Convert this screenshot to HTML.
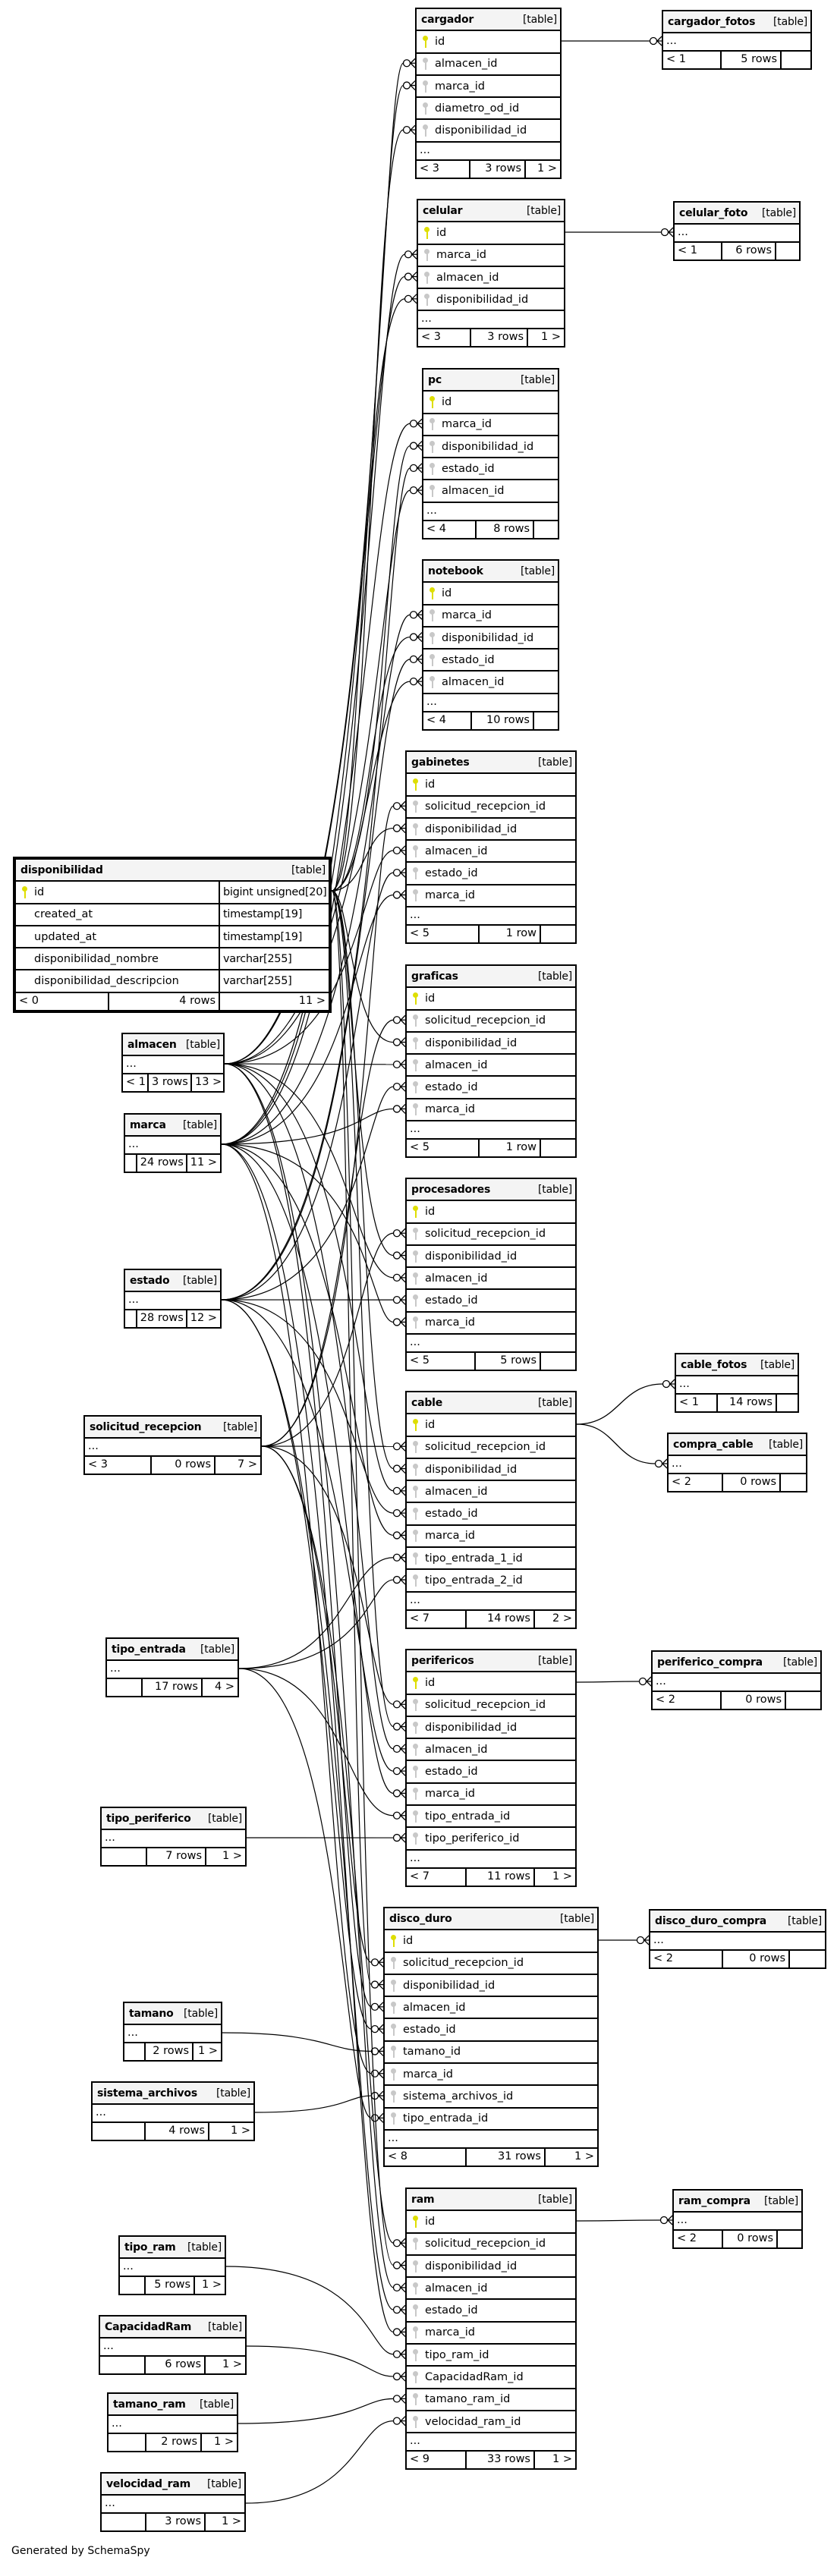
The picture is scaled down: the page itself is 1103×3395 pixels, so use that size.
<!DOCTYPE html>
<html><head><meta charset="utf-8">
<style>
html,body{margin:0;padding:0;background:#fff;}
body{width:1103px;height:3395px;position:relative;overflow:hidden;font-family:"DejaVu Sans","Liberation Sans",sans-serif;font-size:14.5px;color:#000;}
svg#edges{position:absolute;left:0;top:0;z-index:0;}
.t{position:absolute;z-index:1;background:#fff;border:2px solid #000;box-sizing:border-box;}
.t div{box-sizing:border-box;white-space:nowrap;overflow:hidden;}
.h{height:29.3px;background:#f4f4f4;border-bottom:2px solid #000;display:flex;justify-content:space-between;align-items:center;padding:0 4px 0 6px;font-size:14px;letter-spacing:-0.2px;}
.h b{font-weight:bold;}
.r{height:29.3px;border-bottom:2px solid #000;display:flex;align-items:center;padding-left:8px;}
.e{height:24px;border-bottom:2px solid #000;padding-left:4px;line-height:20px;}
.f{height:22px;display:flex;line-height:21px;}
.f span{display:block;box-sizing:border-box;border-right:2px solid #000;padding:0 4px;height:22px;}
.f span:first-child{text-align:left;}
.f span:nth-child(2){text-align:right;}
.f span:last-child{flex:1;border-right:none;text-align:right;}
i.pk,i.fk{display:inline-block;width:7px;height:16px;margin-right:9px;position:relative;}
i.pk:before,i.fk:before{content:"";position:absolute;left:0;top:0;width:7px;height:7px;border-radius:50%;}
i.pk:after,i.fk:after{content:"";position:absolute;left:2.5px;top:5px;width:2.5px;height:11px;}
i.pk:before,i.pk:after{background:#dede00;}
i.fk:before,i.fk:after{background:#c8c8c8;}
i.no{display:inline-block;width:7px;margin-right:9px;}
.d{border:4px solid #000;}
.d .r{padding-left:0;}
.d .r span{display:flex;align-items:center;height:100%;}
.d .r span.c1{width:269px;border-right:2px solid #000;padding-left:8px;box-sizing:border-box;}
.d .r span.c2{padding-left:4px;letter-spacing:-0.3px;}
.gen{position:absolute;left:15px;top:3354px;font-size:14px;}
</style></head><body>
<svg id="edges" width="1103" height="3395" xmlns="http://www.w3.org/2000/svg"></svg>

<div class="t" style="left:547px;top:10px;width:193px"><div class="h"><b>cargador</b><span>[table]</span></div>
<div class="r"><i class="pk"></i>id</div><div class="r"><i class="fk"></i>almacen_id</div><div class="r"><i class="fk"></i>marca_id</div><div class="r"><i class="fk"></i>diametro_od_id</div><div class="r"><i class="fk"></i>disponibilidad_id</div>
<div class="e">...</div><div class="f"><span style="width:71px">&lt; 3</span><span style="width:73px">3 rows</span><span>1 &gt;</span></div></div>

<div class="t" style="left:872px;top:13px;width:198px"><div class="h"><b>cargador_fotos</b><span>[table]</span></div>
<div class="e">...</div><div class="f"><span style="width:77px">&lt; 1</span><span style="width:79px">5 rows</span><span></span></div></div>

<div class="t" style="left:549px;top:262px;width:196px"><div class="h"><b>celular</b><span>[table]</span></div>
<div class="r"><i class="pk"></i>id</div><div class="r"><i class="fk"></i>marca_id</div><div class="r"><i class="fk"></i>almacen_id</div><div class="r"><i class="fk"></i>disponibilidad_id</div>
<div class="e">...</div><div class="f"><span style="width:70px">&lt; 3</span><span style="width:75px">3 rows</span><span>1 &gt;</span></div></div>

<div class="t" style="left:887px;top:265px;width:168px"><div class="h"><b>celular_foto</b><span>[table]</span></div>
<div class="e">...</div><div class="f"><span style="width:63px">&lt; 1</span><span style="width:71px">6 rows</span><span></span></div></div>

<div class="t" style="left:556px;top:485px;width:181px"><div class="h"><b>pc</b><span>[table]</span></div>
<div class="r"><i class="pk"></i>id</div><div class="r"><i class="fk"></i>marca_id</div><div class="r"><i class="fk"></i>disponibilidad_id</div><div class="r"><i class="fk"></i>estado_id</div><div class="r"><i class="fk"></i>almacen_id</div>
<div class="e">...</div><div class="f"><span style="width:70px">&lt; 4</span><span style="width:76px">8 rows</span><span></span></div></div>

<div class="t" style="left:556px;top:737px;width:181px"><div class="h"><b>notebook</b><span>[table]</span></div>
<div class="r"><i class="pk"></i>id</div><div class="r"><i class="fk"></i>marca_id</div><div class="r"><i class="fk"></i>disponibilidad_id</div><div class="r"><i class="fk"></i>estado_id</div><div class="r"><i class="fk"></i>almacen_id</div>
<div class="e">...</div><div class="f"><span style="width:64px">&lt; 4</span><span style="width:82px">10 rows</span><span></span></div></div>

<div class="t" style="left:534px;top:989px;width:226px"><div class="h"><b>gabinetes</b><span>[table]</span></div>
<div class="r"><i class="pk"></i>id</div><div class="r"><i class="fk"></i>solicitud_recepcion_id</div><div class="r"><i class="fk"></i>disponibilidad_id</div><div class="r"><i class="fk"></i>almacen_id</div><div class="r"><i class="fk"></i>estado_id</div><div class="r"><i class="fk"></i>marca_id</div>
<div class="e">...</div><div class="f"><span style="width:96px">&lt; 5</span><span style="width:81px">1 row</span><span></span></div></div>

<div class="t" style="left:534px;top:1271px;width:226px"><div class="h"><b>graficas</b><span>[table]</span></div>
<div class="r"><i class="pk"></i>id</div><div class="r"><i class="fk"></i>solicitud_recepcion_id</div><div class="r"><i class="fk"></i>disponibilidad_id</div><div class="r"><i class="fk"></i>almacen_id</div><div class="r"><i class="fk"></i>estado_id</div><div class="r"><i class="fk"></i>marca_id</div>
<div class="e">...</div><div class="f"><span style="width:96px">&lt; 5</span><span style="width:81px">1 row</span><span></span></div></div>

<div class="t" style="left:534px;top:1552px;width:226px"><div class="h"><b>procesadores</b><span>[table]</span></div>
<div class="r"><i class="pk"></i>id</div><div class="r"><i class="fk"></i>solicitud_recepcion_id</div><div class="r"><i class="fk"></i>disponibilidad_id</div><div class="r"><i class="fk"></i>almacen_id</div><div class="r"><i class="fk"></i>estado_id</div><div class="r"><i class="fk"></i>marca_id</div>
<div class="e">...</div><div class="f"><span style="width:91px">&lt; 5</span><span style="width:86px">5 rows</span><span></span></div></div>

<div class="t" style="left:534px;top:1833px;width:226px"><div class="h"><b>cable</b><span>[table]</span></div>
<div class="r"><i class="pk"></i>id</div><div class="r"><i class="fk"></i>solicitud_recepcion_id</div><div class="r"><i class="fk"></i>disponibilidad_id</div><div class="r"><i class="fk"></i>almacen_id</div><div class="r"><i class="fk"></i>estado_id</div><div class="r"><i class="fk"></i>marca_id</div><div class="r"><i class="fk"></i>tipo_entrada_1_id</div><div class="r"><i class="fk"></i>tipo_entrada_2_id</div>
<div class="e">...</div><div class="f"><span style="width:79px">&lt; 7</span><span style="width:90px">14 rows</span><span>2 &gt;</span></div></div>

<div class="t" style="left:534px;top:2173px;width:226px"><div class="h"><b>perifericos</b><span>[table]</span></div>
<div class="r"><i class="pk"></i>id</div><div class="r"><i class="fk"></i>solicitud_recepcion_id</div><div class="r"><i class="fk"></i>disponibilidad_id</div><div class="r"><i class="fk"></i>almacen_id</div><div class="r"><i class="fk"></i>estado_id</div><div class="r"><i class="fk"></i>marca_id</div><div class="r"><i class="fk"></i>tipo_entrada_id</div><div class="r"><i class="fk"></i>tipo_periferico_id</div>
<div class="e">...</div><div class="f"><span style="width:79px">&lt; 7</span><span style="width:90px">11 rows</span><span>1 &gt;</span></div></div>

<div class="t" style="left:505px;top:2513px;width:284px"><div class="h"><b>disco_duro</b><span>[table]</span></div>
<div class="r"><i class="pk"></i>id</div><div class="r"><i class="fk"></i>solicitud_recepcion_id</div><div class="r"><i class="fk"></i>disponibilidad_id</div><div class="r"><i class="fk"></i>almacen_id</div><div class="r"><i class="fk"></i>estado_id</div><div class="r"><i class="fk"></i>tamano_id</div><div class="r"><i class="fk"></i>marca_id</div><div class="r"><i class="fk"></i>sistema_archivos_id</div><div class="r"><i class="fk"></i>tipo_entrada_id</div>
<div class="e">...</div><div class="f"><span style="width:108px">&lt; 8</span><span style="width:104px">31 rows</span><span>1 &gt;</span></div></div>

<div class="t" style="left:534px;top:2883px;width:226px"><div class="h"><b>ram</b><span>[table]</span></div>
<div class="r"><i class="pk"></i>id</div><div class="r"><i class="fk"></i>solicitud_recepcion_id</div><div class="r"><i class="fk"></i>disponibilidad_id</div><div class="r"><i class="fk"></i>almacen_id</div><div class="r"><i class="fk"></i>estado_id</div><div class="r"><i class="fk"></i>marca_id</div><div class="r"><i class="fk"></i>tipo_ram_id</div><div class="r"><i class="fk"></i>CapacidadRam_id</div><div class="r"><i class="fk"></i>tamano_ram_id</div><div class="r"><i class="fk"></i>velocidad_ram_id</div>
<div class="e">...</div><div class="f"><span style="width:79px">&lt; 9</span><span style="width:90px">33 rows</span><span>1 &gt;</span></div></div>

<div class="t" style="left:889px;top:1783px;width:164px"><div class="h"><b>cable_fotos</b><span>[table]</span></div>
<div class="e">...</div><div class="f"><span style="width:55px">&lt; 1</span><span style="width:78px">14 rows</span><span></span></div></div>
<div class="t" style="left:879px;top:1888px;width:185px"><div class="h"><b>compra_cable</b><span>[table]</span></div>
<div class="e">...</div><div class="f"><span style="width:72px">&lt; 2</span><span style="width:76px">0 rows</span><span></span></div></div>
<div class="t" style="left:858px;top:2175px;width:225px"><div class="h"><b>periferico_compra</b><span>[table]</span></div>
<div class="e">...</div><div class="f"><span style="width:91px">&lt; 2</span><span style="width:85px">0 rows</span><span></span></div></div>
<div class="t" style="left:855px;top:2516px;width:234px"><div class="h"><b>disco_duro_compra</b><span>[table]</span></div>
<div class="e">...</div><div class="f"><span style="width:96px">&lt; 2</span><span style="width:88px">0 rows</span><span></span></div></div>
<div class="t" style="left:886px;top:2885px;width:172px"><div class="h"><b>ram_compra</b><span>[table]</span></div>
<div class="e">...</div><div class="f"><span style="width:65px">&lt; 2</span><span style="width:72px">0 rows</span><span></span></div></div>

<div class="t d" style="left:17px;top:1129px;width:420px"><div class="h"><b>disponibilidad</b><span>[table]</span></div>
<div class="r"><span class="c1"><i class="pk"></i>id</span><span class="c2">bigint unsigned[20]</span></div>
<div class="r"><span class="c1"><i class="no"></i>created_at</span><span class="c2">timestamp[19]</span></div>
<div class="r"><span class="c1"><i class="no"></i>updated_at</span><span class="c2">timestamp[19]</span></div>
<div class="r"><span class="c1"><i class="no"></i>disponibilidad_nombre</span><span class="c2">varchar[255]</span></div>
<div class="r"><span class="c1"><i class="no"></i>disponibilidad_descripcion</span><span class="c2">varchar[255]</span></div>
<div class="f"><span style="width:123px">&lt; 0</span><span style="width:146px">4 rows</span><span>11 &gt;</span></div></div>

<div class="t" style="left:160px;top:1361px;width:136px"><div class="h"><b>almacen</b><span>[table]</span></div>
<div class="e">...</div><div class="f"><span style="width:34px">&lt; 1</span><span style="width:57px">3 rows</span><span>13 &gt;</span></div></div>
<div class="t" style="left:163px;top:1467px;width:129px"><div class="h"><b>marca</b><span>[table]</span></div>
<div class="e">...</div><div class="f"><span style="width:19px"></span><span style="width:66px">24 rows</span><span>11 &gt;</span></div></div>
<div class="t" style="left:163px;top:1672px;width:129px"><div class="h"><b>estado</b><span>[table]</span></div>
<div class="e">...</div><div class="f"><span style="width:19px"></span><span style="width:66px">28 rows</span><span>12 &gt;</span></div></div>
<div class="t" style="left:110px;top:1865px;width:235px"><div class="h"><b>solicitud_recepcion</b><span>[table]</span></div>
<div class="e">...</div><div class="f"><span style="width:88px">&lt; 3</span><span style="width:84px">0 rows</span><span>7 &gt;</span></div></div>
<div class="t" style="left:139px;top:2158px;width:176px"><div class="h"><b>tipo_entrada</b><span>[table]</span></div>
<div class="e">...</div><div class="f"><span style="width:47px"></span><span style="width:79px">17 rows</span><span>4 &gt;</span></div></div>
<div class="t" style="left:132px;top:2381px;width:193px"><div class="h"><b>tipo_periferico</b><span>[table]</span></div>
<div class="e">...</div><div class="f"><span style="width:60px"></span><span style="width:78px">7 rows</span><span>1 &gt;</span></div></div>
<div class="t" style="left:162px;top:2638px;width:131px"><div class="h"><b>tamano</b><span>[table]</span></div>
<div class="e">...</div><div class="f"><span style="width:28px"></span><span style="width:63px">2 rows</span><span>1 &gt;</span></div></div>
<div class="t" style="left:120px;top:2743px;width:216px"><div class="h"><b>sistema_archivos</b><span>[table]</span></div>
<div class="e">...</div><div class="f"><span style="width:70px"></span><span style="width:84px">4 rows</span><span>1 &gt;</span></div></div>
<div class="t" style="left:156px;top:2946px;width:142px"><div class="h"><b>tipo_ram</b><span>[table]</span></div>
<div class="e">...</div><div class="f"><span style="width:34px"></span><span style="width:65px">5 rows</span><span>1 &gt;</span></div></div>
<div class="t" style="left:130px;top:3051px;width:195px"><div class="h"><b>CapacidadRam</b><span>[table]</span></div>
<div class="e">...</div><div class="f"><span style="width:60px"></span><span style="width:79px">6 rows</span><span>1 &gt;</span></div></div>
<div class="t" style="left:141px;top:3153px;width:173px"><div class="h"><b>tamano_ram</b><span>[table]</span></div>
<div class="e">...</div><div class="f"><span style="width:50px"></span><span style="width:73px">2 rows</span><span>1 &gt;</span></div></div>
<div class="t" style="left:132px;top:3258px;width:192px"><div class="h"><b>velocidad_ram</b><span>[table]</span></div>
<div class="e">...</div><div class="f"><span style="width:59px"></span><span style="width:78px">3 rows</span><span>1 &gt;</span></div></div>

<div class="gen">Generated by SchemaSpy</div>

<script>
(function(){
var S={disp:[437,1174],alm:[296,1402],mar:[292,1508],est:[292,1713],sol:[345,1906],te:[315,2199],tp:[325,2422],tam:[293,2679],sa:[336,2784],tr:[298,2987],cap:[325,3092],tra:[314,3194],vel:[324,3299]};
var T=[
[547,10,[['alm',2],['mar',3],['disp',5]]],
[549,262,[['mar',2],['alm',3],['disp',4]]],
[556,485,[['mar',2],['disp',3],['est',4],['alm',5]]],
[556,737,[['mar',2],['disp',3],['est',4],['alm',5]]],
[534,989,[['sol',2],['disp',3],['alm',4],['est',5],['mar',6]]],
[534,1271,[['sol',2],['disp',3],['alm',4],['est',5],['mar',6]]],
[534,1552,[['sol',2],['disp',3],['alm',4],['est',5],['mar',6]]],
[534,1833,[['sol',2],['disp',3],['alm',4],['est',5],['mar',6],['te',7],['te',8]]],
[534,2173,[['sol',2],['disp',3],['alm',4],['est',5],['mar',6],['te',7],['tp',8]]],
[505,2513,[['sol',2],['disp',3],['alm',4],['est',5],['tam',6],['mar',7],['sa',8],['te',9]]],
[534,2883,[['sol',2],['disp',3],['alm',4],['est',5],['mar',6],['tr',7],['cap',8],['tra',9],['vel',10]]]
];
var out='',n=0;
function crow(ex,ey){
 return '<circle cx="'+(ex-11)+'" cy="'+ey+'" r="4.5" fill="#fff" stroke="#000" stroke-width="1.3"/>'+
 '<path d="M'+(ex-6)+','+ey+' L'+ex+','+(ey-6)+' M'+(ex-6)+','+ey+' L'+ex+','+ey+' M'+(ex-6)+','+ey+' L'+ex+','+(ey+6)+'" stroke="#000" stroke-width="1.3" fill="none"/>';
}
T.forEach(function(t){
 t[2].forEach(function(e){
  var s=S[e[0]],sx=s[0],sy=s[1],ex=t[0],ey=t[1]+29.3*e[1]+14.65;
  var tx=ex-15.5;
  var xv=ex-48-(n%7)*5; if(xv<sx+25) xv=sx+25; n++;
  if(Math.abs(ey-sy)<4){out+='<path d="M'+sx+','+sy+' L'+tx+','+ey+'" stroke="#000" stroke-width="1.2" fill="none"/>';}
  else out+='<path d="M'+sx+','+sy+' C'+xv+','+sy+' '+xv+','+ey+' '+tx+','+ey+'" stroke="#000" stroke-width="1.2" fill="none"/>';
  out+=crow(ex,ey);
 });
});
var R=[[740,54,872,54],[745,306,887,306],[760,1877,889,1824],[760,1877,879,1929],[760,2217,858,2216],[789,2557,855,2557],[760,2927,886,2926]];
R.forEach(function(r){
 var tx=r[2]-15.5,m=(r[0]+tx)/2;
 out+='<path d="M'+r[0]+','+r[1]+' C'+m+','+r[1]+' '+m+','+r[3]+' '+tx+','+r[3]+'" stroke="#000" stroke-width="1.3" fill="none"/>';
 out+=crow(r[2],r[3]);
});
document.getElementById('edges').innerHTML=out;
})();
</script>
</body></html>
